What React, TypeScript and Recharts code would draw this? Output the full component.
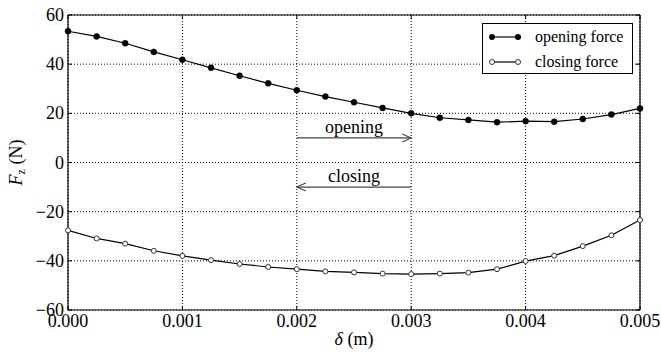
import React from 'react';
import { LineChart, Line, XAxis, YAxis, CartesianGrid, ReferenceLine, Legend } from 'recharts';

const deltaValues = [0, 0.00025, 0.0005, 0.00075, 0.001, 0.00125, 0.0015, 0.00175, 0.002, 0.00225, 0.0025, 0.00275, 0.003, 0.00325, 0.0035, 0.00375, 0.004, 0.00425, 0.0045, 0.00475, 0.005];
const openingForce = [53.4, 51.3, 48.5, 45.0, 41.8, 38.5, 35.3, 32.2, 29.4, 26.8, 24.5, 22.2, 20.0, 18.2, 17.3, 16.4, 16.8, 16.6, 17.7, 19.5, 22.0];
const closingForce = [-27.6, -30.9, -33.0, -35.9, -38.0, -39.7, -41.3, -42.5, -43.4, -44.3, -44.7, -45.2, -45.4, -45.2, -44.8, -43.4, -40.1, -37.9, -34.0, -29.6, -23.4];

const xTicks = [0, 0.001, 0.002, 0.003, 0.004, 0.005];
const yTicks = [-60, -40, -20, 0, 20, 40, 60];
const seriesNames = ['opening force', 'closing force'];
const annotations = [
  { label: 'opening', from: 0.002, to: 0.003, y: 10 },
  { label: 'closing', from: 0.003, to: 0.002, y: -10 },
];

const data = deltaValues.map((d, i) => ({ delta: d, opening: openingForce[i], closing: closingForce[i] }));

const FONT = '"Liberation Serif", "DejaVu Serif", serif';

const XTick = (props: any) => {
  const { x, y, payload } = props;
  return (
    <text x={x} y={y + 17} textAnchor="middle" fontFamily={FONT} fontSize={18} fill="#000">
      {Number(payload.value).toFixed(3)}
    </text>
  );
};

const YTick = (props: any) => {
  const { x, y, payload } = props;
  const v = Number(payload.value);
  const s = v < 0 ? '\u2212' + Math.abs(v) : String(v);
  return (
    <text x={x - 4} y={y + 6} textAnchor="end" fontFamily={FONT} fontSize={18} fill="#000">
      {s}
    </text>
  );
};

const XTickMarks = (p: any) => {
  const top = Math.min(p.y1, p.y2);
  const bot = Math.max(p.y1, p.y2);
  return (
    <g>
      <line x1={p.x1} x2={p.x1} y1={bot} y2={bot - 4} stroke="#000" strokeWidth={1} />
      <line x1={p.x1} x2={p.x1} y1={top} y2={top + 4} stroke="#000" strokeWidth={1} />
    </g>
  );
};

const YTickMarks = (p: any) => {
  const l = Math.min(p.x1, p.x2);
  const r = Math.max(p.x1, p.x2);
  return (
    <g>
      <line x1={l} x2={l + 4} y1={p.y1} y2={p.y1} stroke="#000" strokeWidth={1} />
      <line x1={r} x2={r - 4} y1={p.y1} y2={p.y1} stroke="#000" strokeWidth={1} />
    </g>
  );
};

const makeArrow = (label: string) => (p: any) => {
  const dir = p.x2 > p.x1 ? 1 : -1;
  const mx = (p.x1 + p.x2) / 2;
  return (
    <g>
      <line x1={p.x1} y1={p.y1} x2={p.x2} y2={p.y2} stroke="#444" strokeWidth={1.3} />
      <polyline
        points={`${p.x2 - dir * 9},${p.y2 - 4} ${p.x2},${p.y2} ${p.x2 - dir * 9},${p.y2 + 4}`}
        fill="none"
        stroke="#444"
        strokeWidth={1.1}
      />
      <text x={mx} y={p.y1 - 5} textAnchor="middle" fontFamily={FONT} fontSize={18} fill="#000">
        {label}
      </text>
    </g>
  );
};

const YLabel = (props: any) => {
  const vb = props.viewBox || { x: 0, y: 15, width: 68, height: 295 };
  const cx = vb.x + 22;
  const cy = vb.y + vb.height / 2;
  return (
    <text x={cx} y={cy} transform={`rotate(-90, ${cx}, ${cy})`} textAnchor="middle" fontFamily={FONT} fontSize={18} fill="#000">
      <tspan fontStyle="italic">F</tspan>
      <tspan fontSize={12} dy={3}>z</tspan>
      <tspan dy={-3}> (N)</tspan>
    </text>
  );
};

const XLabel = (props: any) => {
  const vb = props.viewBox || { x: 68, y: 310, width: 572, height: 42 };
  const cx = vb.x + vb.width / 2;
  return (
    <text x={cx} y={vb.y + 35} textAnchor="middle" fontFamily={FONT} fontSize={18} fill="#000">
      <tspan fontStyle="italic">{'\u03b4'}</tspan>
      <tspan> (m)</tspan>
    </text>
  );
};

const LegendBox = () => (
  <div
    style={{
      width: 151,
      height: 51,
      boxSizing: 'border-box',
      border: '1px solid #000',
      background: '#fff',
      fontFamily: FONT,
      fontSize: 16,
      position: 'relative',
    }}
  >
    {seriesNames.map((name, i) => (
      <div key={name} style={{ position: 'absolute', left: 0, top: i === 0 ? 3 : 28, height: 20, width: 149 }}>
        <svg width={40} height={20} style={{ position: 'absolute', left: 6, top: 0 }}>
          <line x1={3} x2={29} y1={10} y2={10} stroke="#000" strokeWidth={1.2} />
          {i === 0 ? (
            <>
              <circle cx={3} cy={10} r={3} fill="#000" />
              <circle cx={29} cy={10} r={3} fill="#000" />
            </>
          ) : (
            <>
              <circle cx={3} cy={10} r={2.5} fill="#fff" stroke="#333" />
              <circle cx={29} cy={10} r={2.5} fill="#fff" stroke="#333" />
            </>
          )}
        </svg>
        <span style={{ position: 'absolute', left: 52, top: 0, lineHeight: '20px', whiteSpace: 'nowrap' }}>{name}</span>
      </div>
    ))}
  </div>
);

export default function App() {
  return (
    <div style={{ position: 'absolute', left: 0, top: 0, width: 661, height: 352, background: '#fff' }}>
      <LineChart width={661} height={352} data={data} margin={{ top: 15, right: 21, bottom: 0, left: 0 }}>
        <CartesianGrid stroke="#000" strokeDasharray="1 2" strokeWidth={1} />
        <XAxis
          dataKey="delta"
          type="number"
          domain={[0, 0.005]}
          ticks={xTicks}
          interval={0}
          height={42}
          tickSize={0}
          tickMargin={0}
          tickLine={false}
          axisLine={{ stroke: '#000', strokeWidth: 1.2 }}
          tick={<XTick />}
          label={<XLabel />}
        />
        <YAxis
          type="number"
          domain={[-60, 60]}
          ticks={yTicks}
          interval={0}
          width={68}
          tickSize={0}
          tickMargin={0}
          tickLine={false}
          axisLine={{ stroke: '#000', strokeWidth: 1.2 }}
          tick={<YTick />}
          label={<YLabel />}
        />
        <ReferenceLine y={60} stroke="#000" strokeWidth={1.2} />
        <ReferenceLine x={0.005} stroke="#000" strokeWidth={1.2} />
        {xTicks.map((t) => (
          <ReferenceLine key={'xt' + t} x={t} shape={XTickMarks} />
        ))}
        {yTicks.map((t) => (
          <ReferenceLine key={'yt' + t} y={t} shape={YTickMarks} />
        ))}
        {annotations.map((a) => (
          <ReferenceLine
            key={a.label}
            segment={[{ x: a.from, y: a.y }, { x: a.to, y: a.y }]}
            shape={makeArrow(a.label)}
          />
        ))}
        <Line
          dataKey="opening"
          name={seriesNames[0]}
          stroke="#000"
          strokeWidth={1.2}
          dot={{ r: 3, fill: '#000', stroke: '#000', strokeWidth: 0.5 }}
          activeDot={false}
          isAnimationActive={false}
        />
        <Line
          dataKey="closing"
          name={seriesNames[1]}
          stroke="#000"
          strokeWidth={1.2}
          dot={{ r: 2.5, fill: '#fff', stroke: '#333', strokeWidth: 1 }}
          activeDot={false}
          isAnimationActive={false}
        />
        <Legend
          layout="horizontal"
          verticalAlign="middle"
          align="center"
          content={<LegendBox />}
          wrapperStyle={{ position: 'absolute', left: 482, top: 23, width: 151, height: 51 }}
        />
      </LineChart>
    </div>
  );
}
